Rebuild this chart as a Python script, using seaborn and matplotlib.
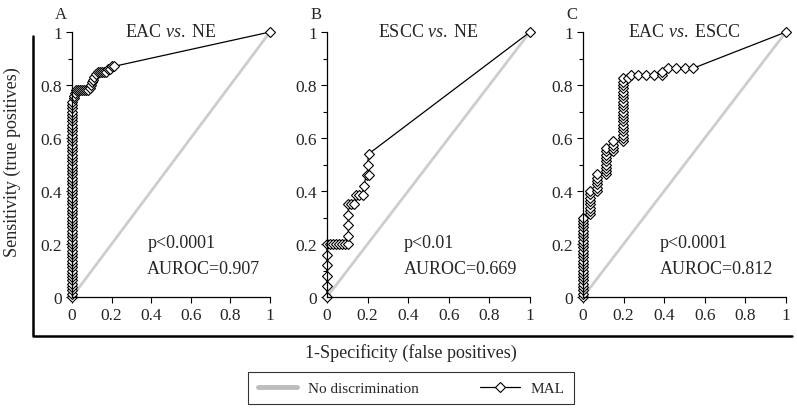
import matplotlib
matplotlib.use("Agg")
import matplotlib.pyplot as plt
import seaborn as sns
from matplotlib.lines import Line2D

# ── data ────────────────────────────────────────────────────
# A: EAC vs. NE
fpr_a = [0, 0, 0, 0, 0, 0, 0, 0, 0, 0,
         0, 0, 0, 0, 0, 0, 0, 0, 0, 0,
         0, 0, 0, 0, 0, 0, 0, 0, 0, 0,
         0, 0, 0, 0, 0, 0, 0, 0, 0, 0,
         0, 0, 0, 0, 0, 0, 0, 0, 0, 0,
         0, 0, 0, 0, 0, 0, 0, 0, 0, 0,
         0.01, 0.01, 0.015, 0.02, 0.03, 0.04, 0.05, 0.06, 0.07, 0.08,
         0.09, 0.095, 0.10, 0.105, 0.11, 0.12, 0.13, 0.14, 0.15, 0.16,
         0.17, 0.18, 0.19, 0.20, 0.21, 1.0]
tpr_a = [0.0, 0.0125, 0.025, 0.0375, 0.05, 0.0625, 0.075, 0.0875, 0.1, 0.1125,
         0.125, 0.1375, 0.15, 0.1625, 0.175, 0.1875, 0.2, 0.2125, 0.225, 0.2375,
         0.25, 0.2625, 0.275, 0.2875, 0.3, 0.3125, 0.325, 0.3375, 0.35, 0.3625,
         0.375, 0.3875, 0.4, 0.4125, 0.425, 0.4375, 0.45, 0.4625, 0.475, 0.4875,
         0.5, 0.5125, 0.525, 0.5375, 0.55, 0.5625, 0.575, 0.5875, 0.6, 0.6125,
         0.625, 0.6375, 0.65, 0.6625, 0.675, 0.6875, 0.7, 0.7125, 0.725, 0.7375,
         0.75, 0.76, 0.77, 0.78, 0.78, 0.78, 0.78, 0.78, 0.78, 0.78,
         0.79, 0.80, 0.81, 0.82, 0.83, 0.84, 0.85, 0.85, 0.85, 0.85,
         0.85, 0.86, 0.86, 0.87, 0.87, 1.0]

# B: ESCC vs. NE
fpr_b = [0, 0, 0, 0, 0, 0,
         0.015, 0.03, 0.045, 0.06, 0.075, 0.09, 0.105,
         0.105, 0.105, 0.105, 0.105, 0.12, 0.135,
         0.145, 0.16, 0.175, 0.18, 0.195, 0.205, 0.20, 0.205, 1.0]
tpr_b = [0.0, 0.04, 0.08, 0.12, 0.16, 0.2,
         0.2, 0.2, 0.2, 0.2, 0.2, 0.2, 0.2,
         0.23, 0.27, 0.31, 0.35, 0.35, 0.35,
         0.385, 0.385, 0.385, 0.42, 0.46, 0.46, 0.50, 0.54, 1.0]

# C: EAC vs. ESCC
fpr_c = [0, 0, 0, 0, 0, 0, 0, 0, 0, 0,
         0, 0, 0, 0, 0, 0, 0, 0, 0, 0,
         0, 0, 0, 0, 0,
         0.035, 0.035, 0.035, 0.035, 0.035, 0.035, 0.035, 0.035,
         0.07, 0.07, 0.07, 0.07, 0.07, 0.07,
         0.115, 0.115, 0.115, 0.115, 0.115, 0.115, 0.115, 0.115, 0.115,
         0.15, 0.15, 0.15, 0.15,
         0.195, 0.195, 0.195, 0.195, 0.195, 0.195, 0.195, 0.195, 0.195, 0.195,
         0.195, 0.195, 0.195, 0.195, 0.195, 0.195, 0.195, 0.195, 0.195, 0.195,
         0.22, 0.235, 0.27, 0.31, 0.35, 0.39, 0.39, 0.42, 0.46, 0.50, 0.54, 1.0]
tpr_c = [0.0, 0.0125, 0.025, 0.0375, 0.05, 0.0625, 0.075, 0.0875, 0.1, 0.1125,
         0.125, 0.1375, 0.15, 0.1625, 0.175, 0.1875, 0.2, 0.2125, 0.225, 0.2375,
         0.25, 0.2625, 0.275, 0.2875, 0.3,
         0.3125, 0.325, 0.3375, 0.35, 0.3625, 0.375, 0.3875, 0.4,
         0.4, 0.4125, 0.425, 0.4375, 0.45, 0.4625,
         0.4625, 0.475, 0.4875, 0.5, 0.5125, 0.525, 0.5375, 0.55, 0.5625,
         0.55, 0.5625, 0.575, 0.5875,
         0.5875, 0.6, 0.6125, 0.625, 0.6375, 0.65, 0.6625, 0.675, 0.6875, 0.7,
         0.7125, 0.725, 0.7375, 0.75, 0.7625, 0.775, 0.7875, 0.8, 0.8125, 0.825,
         0.825, 0.8375, 0.8375, 0.8375, 0.8375, 0.8375, 0.85, 0.8625, 0.8625, 0.8625, 0.8625, 1.0]

letters = ["A", "B", "C"]
titles = [r"EAC $vs.\;$NE", r"ESCC $vs.\;$NE", r"EAC $vs.\;$ESCC"]
p_texts = ["p<0.0001", "p<0.01", "p<0.0001"]
auroc = [0.907, 0.669, 0.812]
curves = [(fpr_a, tpr_a), (fpr_b, tpr_b), (fpr_c, tpr_c)]
diag = [0, 1]

sns.set_style("white")
plt.rcParams["font.family"] = ["Liberation Serif", "DejaVu Serif"]
plt.rcParams["mathtext.fontset"] = "custom"
plt.rcParams["mathtext.rm"] = "Liberation Serif"
plt.rcParams["mathtext.it"] = "Liberation Serif:italic"

W, H = 797, 410
fig = plt.figure(figsize=(W / 100, H / 100), dpi=100)

# axes boxes in pixels: left, right, top, bottom
boxes = [(72, 270, 33, 298), (327, 530, 33, 298), (583, 786, 33, 298)]

for i, (fpr, tpr) in enumerate(curves):
    l, r, t, b = boxes[i]
    ax = fig.add_axes([l / W, 1 - b / H, (r - l) / W, (b - t) / H])
    sns.lineplot(x=diag, y=diag, ax=ax, color="#cdcdcd", linewidth=2)
    sns.lineplot(x=fpr, y=tpr, ax=ax, sort=False, estimator=None,
                 color="black", linewidth=0.9, marker="D", markersize=5,
                 markerfacecolor="white", markeredgecolor="black",
                 markeredgewidth=0.8, clip_on=False)
    ax.set_xlim(0, 1)
    ax.set_ylim(0, 1)
    ax.set_xticks([0, 0.2, 0.4, 0.6, 0.8, 1])
    ax.set_xticklabels(["0", "0.2", "0.4", "0.6", "0.8", "1"])
    ax.set_yticks([0, 0.2, 0.4, 0.6, 0.8, 1])
    ax.set_yticklabels(["0", "0.2", "0.4", "0.6", "0.8", "1"])
    ax.set_yticks([0.1, 0.3, 0.5, 0.7, 0.9], minor=True)
    ax.tick_params(axis="both", which="major", labelsize=12.5, length=4,
                   width=0.8, color="black", direction="out", pad=3)
    ax.tick_params(axis="y", which="minor", length=3, width=0.8,
                   color="black", direction="out", left=True)
    ax.tick_params(axis="x", bottom=True)
    ax.tick_params(axis="y", left=True)
    for s in ["top", "right"]:
        ax.spines[s].set_visible(False)
    for s in ["left", "bottom"]:
        ax.spines[s].set_color("black")
        ax.spines[s].set_linewidth(0.9)
    ax.set_xlabel("")
    ax.set_ylabel("")
    ax.text(0.5, 0.985, titles[i], transform=ax.transAxes, ha="center",
            va="baseline", fontsize=13)
    ax.text(-0.055, 1.068, letters[i], transform=ax.transAxes, ha="center",
            va="center", fontsize=12)
    ax.text(0.38, 0.19, p_texts[i], transform=ax.transAxes, ha="left",
            va="baseline", fontsize=13)
    ax.text(0.38, 0.09, f"AUROC={auroc[i]:.3f}", transform=ax.transAxes,
            ha="left", va="baseline", fontsize=13)

# outer L-frame
fig.add_artist(Line2D([33 / W, 33 / W, 792 / W],
                      [1 - 37 / H, 1 - 337 / H, 1 - 337 / H],
                      color="black", linewidth=1.8, transform=fig.transFigure))

fig.text(12 / W, 1 - 162 / H, "Sensitivity (true positives)", rotation=90,
         ha="center", va="center", fontsize=13)
fig.text(411 / W, 1 - 353 / H, "1-Specificity (false positives)",
         ha="center", va="center", fontsize=13)

handles = [Line2D([], [], color="#bdbdbd", linewidth=3.5),
           Line2D([], [], color="black", linewidth=0.9, marker="D",
                  markersize=5, markerfacecolor="white",
                  markeredgecolor="black", markeredgewidth=0.8)]
leg = fig.legend(handles, ["No discrimination", "MAL"], loc="center",
                 bbox_to_anchor=(411 / W, 1 - 389 / H), ncol=2,
                 fontsize=11, frameon=True, fancybox=False,
                 handlelength=2.6, handletextpad=0.7, columnspacing=4,
                 borderpad=0.6)
leg.get_frame().set_edgecolor("black")
leg.get_frame().set_linewidth(0.8)

plt.savefig("out.png", dpi=100)
plt.close()
